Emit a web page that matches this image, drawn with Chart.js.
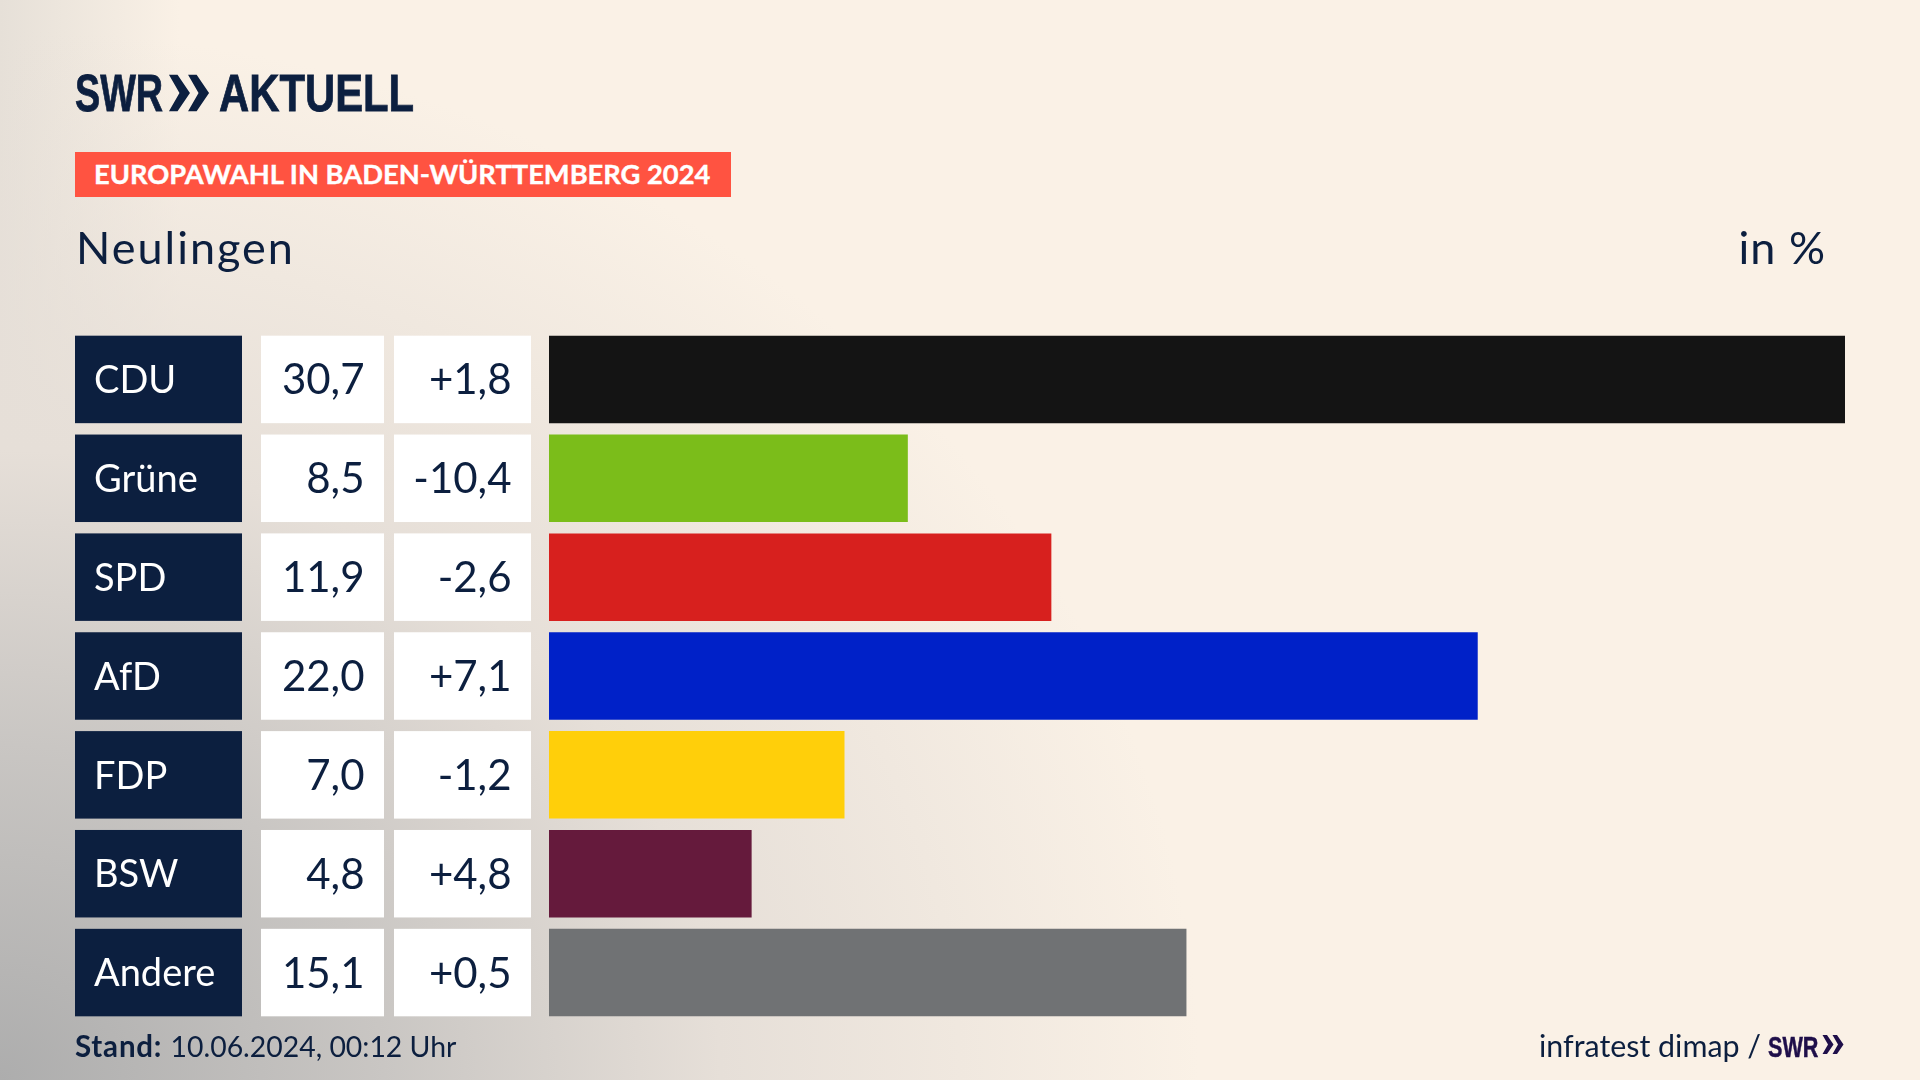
<!DOCTYPE html>
<html lang="de">
<head>
<meta charset="utf-8">
<title>Europawahl in Baden-Württemberg 2024 - Neulingen</title>
<script src="https://cdn.jsdelivr.net/npm/chart.js@4"></script>
<style>
  html, body { margin: 0; padding: 0; }
  body {
    position: relative; width: 1920px; height: 1080px; overflow: hidden;
    font-family: Lato, sans-serif; color: #0c1f3f;
    background:
      radial-gradient(ellipse 1200px 1050px at 0 100%, #adadad 0%, #c9c6c3 32%, #e6dfd8 60%, rgba(250,241,230,0) 100%),
      linear-gradient(90deg, #e6e0d8 0, #faf1e6 180px);
    background-color: #faf1e6;
  }
  canvas { position: absolute; left: 0; top: 0; }
  .t { position: absolute; white-space: nowrap; line-height: 1; }
  #logo { left: 75px; top: 64px; font: 700 51px "Liberation Sans", sans-serif; -webkit-text-stroke: .8px #0c1f3f; transform: scaleX(.74); transform-origin: 0 0; }
  #logo2 { left: 219px; top: 64px; font: 700 51px "Liberation Sans", sans-serif; -webkit-text-stroke: .8px #0c1f3f; transform: scaleX(.82); transform-origin: 0 0; }
  #badge { left: 75px; top: 152px; width: 656px; height: 45px; background: #ff5341; }
  #badgeText { left: 94px; top: 160px; font-weight: 700; font-size: 27.3px; color: #fff; -webkit-text-stroke: .4px #fff; }
  #sub { left: 76px; top: 225px; font-size: 45px; letter-spacing: 2px; }
  #unit { right: 94px; top: 225px; font-size: 45px; letter-spacing: 1px; }
  #stand { left: 75px; top: 1031px; font-size: 28.4px; }
  #stand b { font-size: 29.5px; letter-spacing: .8px; margin-right: 1px; }
  #quelle { left: 1539px; top: 1030px; font-size: 30.4px; }
  #swr2 { left: 1768px; top: 1030px; font: 700 30px "Liberation Sans", sans-serif; color: #1f0f4a; -webkit-text-stroke: .5px #1f0f4a; transform: scaleX(.72); transform-origin: 0 0; }
  svg { position: absolute; }
</style>
</head>
<body>
<canvas id="chart" width="1920" height="1080"></canvas>
<div class="t" id="logo">SWR</div>
<svg style="left:168px;top:74px" width="42" height="38" viewBox="0 0 44 38" fill="#0c1f3f"><path d="M1 0h9l13 19L10 38H1l11-19zM21 0h9l13 19-13 19h-9l11-19z"/></svg>
<div class="t" id="logo2">AKTUELL</div>
<div class="t" id="badge"></div>
<div class="t" id="badgeText">EUROPAWAHL IN BADEN-WÜRTTEMBERG 2024</div>
<div class="t" id="sub">Neulingen</div>
<div class="t" id="unit">in %</div>
<div class="t" id="stand"><b>Stand:</b> 10.06.2024, 00:12 Uhr</div>
<div class="t" id="quelle">infratest dimap /</div>
<div class="t" id="swr2">SWR</div>
<svg style="left:1822px;top:1034px" width="22" height="21" viewBox="0 0 44 38" fill="#1f0f4a"><path d="M1 0h9l13 19L10 38H1l11-19zM21 0h9l13 19-13 19h-9l11-19z"/></svg>
<script>
const categories = ['CDU', 'Grüne', 'SPD', 'AfD', 'FDP', 'BSW', 'Andere'];
const values = [30.7, 8.5, 11.9, 22.0, 7.0, 4.8, 15.1];
const changes = [1.8, -10.4, -2.6, 7.1, -1.2, 4.8, 0.5];
const colors = ['#141414', '#7bbd1a', '#d7201e', '#0021c8', '#ffcf0a', '#651a3c', '#707274'];

const de = v => v.toFixed(1).replace('.', ',');
const signed = v => (v > 0 ? '+' : '') + de(v);

// boxes behind the axis labels and the two number columns
const tablePlugin = {
    id: 'table',
    beforeDraw(chart) {
        const c = chart.ctx;
        const yScale = chart.scales.y;
        const bars = chart.getDatasetMeta(0).data;
        categories.forEach((cat, i) => {
            const y = yScale.getPixelForValue(i);
            const h = bars[i].height;
            c.fillStyle = '#0c1f3f';
            c.fillRect(75, y - h / 2, 167, h);
            c.fillStyle = '#ffffff';
            c.fillRect(261, y - h / 2, 123, h);
            c.fillRect(394, y - h / 2, 137, h);
        });
    },
    afterDatasetsDraw(chart) {
        const c = chart.ctx;
        const yScale = chart.scales.y;
        c.save();
        c.font = '42px Lato';
        c.fillStyle = '#0c1f3f';
        c.textAlign = 'right';
        c.textBaseline = 'alphabetic';
        categories.forEach((cat, i) => {
            const y = yScale.getPixelForValue(i) + 15;
            c.fillText(de(values[i]), 364.5, y);
            c.fillText(signed(changes[i]), 511.5, y);
        });
        c.restore();
    }
};

new Chart(document.getElementById('chart'), {
    type: 'bar',
    data: {
        labels: categories,
        datasets: [{
            data: values,
            backgroundColor: colors,
            barPercentage: 0.885,
            categoryPercentage: 1
        }]
    },
    options: {
        indexAxis: 'y',
        responsive: false,
        devicePixelRatio: 1,
        animation: false,
        layout: { padding: { left: 94, right: 75, top: 330, bottom: 58 } },
        plugins: { legend: { display: false }, title: { display: false }, tooltip: { enabled: false } },
        scales: {
            x: { display: false, min: 0, max: 30.7 },
            y: {
                afterFit(scale) { scale.width = 455; },
                grid: { display: false },
                border: { display: false },
                ticks: { crossAlign: 'far', padding: 0, labelOffset: 1.5, color: '#ffffff', font: { family: 'Lato', size: 38 } }
            }
        }
    },
    plugins: [tablePlugin]
});
</script>
</body>
</html>
